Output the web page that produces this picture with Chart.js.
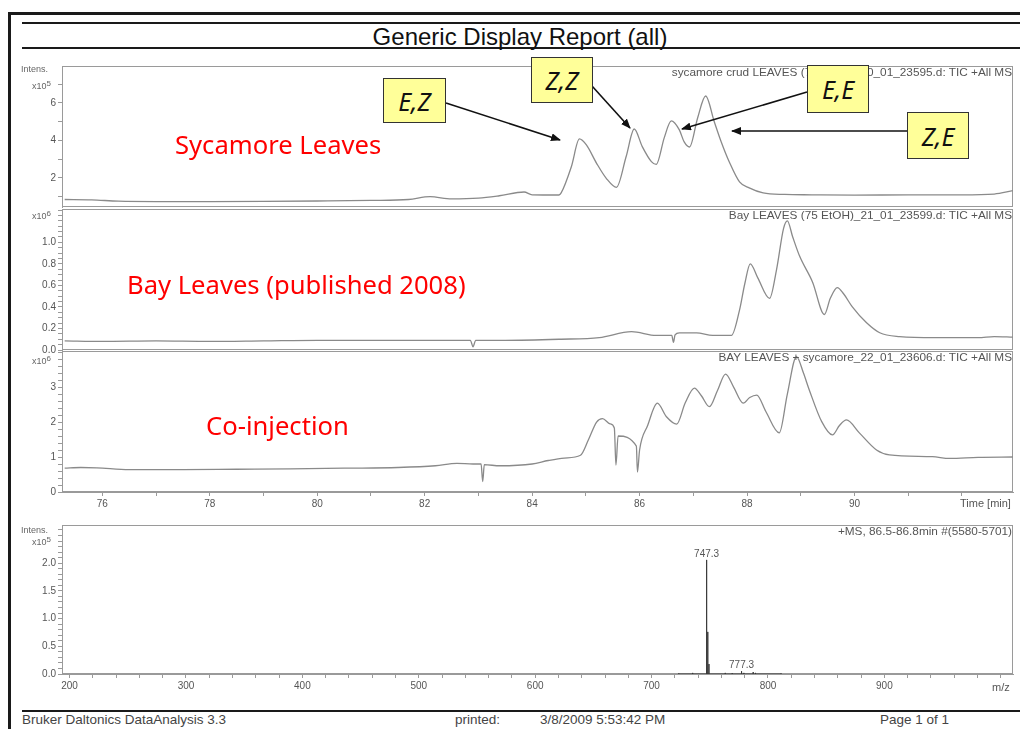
<!DOCTYPE html>
<html>
<head>
<meta charset="utf-8">
<title>Generic Display Report (all)</title>
<script src="https://cdn.jsdelivr.net/npm/chart.js@4.4.1/dist/chart.umd.min.js"></script>
<style>
  html, body { margin: 0; padding: 0; background: #fff; }
  #page { position: relative; width: 1020px; height: 729px; overflow: hidden;
          font-family: "Liberation Sans", Arial, sans-serif; }
  canvas { position: absolute; left: 0; }
  .rule { position: absolute; background: #1a1a1a; }
  .txt { position: absolute; white-space: nowrap; color: #555; font-size: 10px; line-height: 12px; }
  .hdr { right: 8px; font-size: 11.8px; line-height: 13px; }
  .foot { font-size: 13.5px; line-height: 14px; color: #444; }
  .unit { font-size: 9px; color: #666; line-height: 10px; }
  .unit sup { font-size: 8px; vertical-align: 3px; }
  .sample { position: absolute; white-space: nowrap; color: #ff0000;
            font-family: "Noto Sans", sans-serif; font-size: 25.6px; line-height: 30px; }
  .iso { position: absolute; background: #ffff99; border: 1px solid #333;
         font-family: "Noto Sans", sans-serif; font-style: italic; font-size: 25px;
         display: flex; align-items: center; justify-content: center; color: #111; z-index: 3; }
  svg { position: absolute; left: 0; top: 0; z-index: 2; }
</style>
</head>
<body>
<div id="page">
  <!-- page frame and rules -->
  <div class="rule" style="left:8px;top:12px;width:3px;height:717px"></div>
  <div class="rule" style="left:8px;top:12px;width:1012px;height:3px"></div>
  <div class="rule" style="left:22px;top:22px;width:998px;height:2px"></div>
  <div class="rule" style="left:22px;top:47px;width:998px;height:2px"></div>
  <div class="rule" style="left:22px;top:710px;width:998px;height:2px"></div>
  <div class="txt" style="left:0;width:1040px;top:23px;text-align:center;font-size:24px;line-height:28px;color:#111">Generic Display Report (all)</div>

  <canvas id="ticSycamore" width="1020" height="161" style="top:56px"></canvas>
  <canvas id="ticBay" width="1020" height="161" style="top:199px"></canvas>
  <canvas id="ticMix" width="1020" height="177" style="top:341px"></canvas>
  <canvas id="msSpectrum" width="1020" height="185" style="top:515px"></canvas>

  <!-- axis units -->
  <div class="txt unit" style="left:21px;top:64px">Intens.</div>
  <div class="txt unit" style="left:32px;top:79px">x10<sup>5</sup></div>
  <div class="txt unit" style="left:32px;top:209px">x10<sup>6</sup></div>
  <div class="txt unit" style="left:32px;top:354px">x10<sup>6</sup></div>
  <div class="txt unit" style="left:21px;top:525px">Intens.</div>
  <div class="txt unit" style="left:32px;top:535px">x10<sup>5</sup></div>
  <div class="txt" style="left:960px;top:497px;font-size:11px">Time [min]</div>
  <div class="txt" style="left:992px;top:681px;font-size:11px">m/z</div>

  <!-- trace headers -->
  <div class="txt hdr" style="top:66px">sycamore crud LEAVES (75 EtOH)_20_01_23595.d: TIC +All MS</div>
  <div class="txt hdr" style="top:209px">Bay LEAVES (75 EtOH)_21_01_23599.d: TIC +All MS</div>
  <div class="txt hdr" style="top:351px">BAY LEAVES + sycamore_22_01_23606.d: TIC +All MS</div>
  <div class="txt hdr" style="top:525px">+MS, 86.5-86.8min #(5580-5701)</div>

  <!-- sample names -->
  <div class="sample" style="left:175px;top:130px">Sycamore Leaves</div>
  <div class="sample" style="left:127px;top:270px">Bay Leaves (published 2008)</div>
  <div class="sample" style="left:206px;top:411px">Co-injection</div>

  <!-- isomer call-outs -->
  <svg width="1020" height="729">
    <defs>
      <marker id="head" markerWidth="10" markerHeight="8" refX="9" refY="4" orient="auto" markerUnits="userSpaceOnUse">
        <path d="M0,0 L10,4 L0,8 z" fill="#111"/>
      </marker>
    </defs>
    <g stroke="#111" stroke-width="1.6" marker-end="url(#head)">
      <line x1="446" y1="103" x2="560" y2="140"/>
      <line x1="592" y1="86" x2="630" y2="128"/>
      <line x1="807" y1="92" x2="682" y2="129"/>
      <line x1="907" y1="131" x2="732" y2="131"/>
    </g>
  </svg>
  <div class="iso" style="left:383px;top:78px;width:61px;height:43px">E,Z</div>
  <div class="iso" style="left:531px;top:57px;width:60px;height:44px">Z,Z</div>
  <div class="iso" style="left:807px;top:65px;width:60px;height:46px">E,E</div>
  <div class="iso" style="left:907px;top:112px;width:60px;height:45px">Z,E</div>

  <!-- footer -->
  <div class="txt foot" style="left:22px;top:713px">Bruker Daltonics DataAnalysis 3.3</div>
  <div class="txt foot" style="left:455px;top:713px">printed:</div>
  <div class="txt foot" style="left:540px;top:713px">3/8/2009 5:53:42 PM</div>
  <div class="txt foot" style="left:880px;top:713px">Page 1 of 1</div>
</div>

<script>
// TIC traces, retention time in min, intensity in axis units
const sycamoreTime = [75.3, 75.8, 76.3, 77, 78, 79, 80, 81, 81.7, 82.1, 82.5, 83.0, 83.39, 83.85, 84.0, 84.5,
  84.54, 84.73, 84.88, 85.01, 85.2, 85.38, 85.57, 85.75, 85.9, 86.05, 86.22, 86.31, 86.46, 86.59, 86.74,
  86.83, 86.93, 87.08, 87.23, 87.39, 87.52, 87.67, 87.86, 88.04, 88.3, 88.7, 89.2, 90, 91, 92, 92.6, 92.95];
const sycamoreTic = [0.85, 0.83, 0.76, 0.74, 0.74, 0.75, 0.77, 0.8, 0.85, 1.0, 0.88, 0.92, 1.05, 1.25, 1.1, 1.09,
  1.2, 2.6, 4.08, 3.76, 2.78, 1.98, 1.5, 3.14, 4.61, 3.67, 2.87, 2.72, 4.15, 5.04, 4.56,
  3.92, 3.65, 5.2, 6.37, 5.0, 3.92, 2.85, 1.79, 1.47, 1.2, 1.12, 1.1, 1.08, 1.1, 1.1, 1.14, 1.32];

const bayTime = [75.3, 76, 77, 78, 79, 80, 81, 82, 82.85, 82.9, 82.95, 83.5, 84.5, 85.25, 85.85, 86.31, 86.6,
  86.63, 86.66, 86.74, 87.06, 87.36, 87.71, 87.86, 87.96, 88.06, 88.2, 88.42, 88.55, 88.68, 88.75, 88.85,
  88.98, 89.22, 89.44, 89.55, 89.68, 89.8, 89.96, 90.22, 90.47, 90.84, 91.5, 92.3, 92.6, 92.95];
const bayTic = [0.085, 0.08, 0.085, 0.08, 0.085, 0.09, 0.09, 0.09, 0.09, 0.03, 0.09, 0.09, 0.1, 0.115, 0.17, 0.135, 0.135,
  0.07, 0.14, 0.16, 0.16, 0.135, 0.135, 0.37, 0.62, 0.8, 0.67, 0.48, 0.75, 1.13, 1.2, 1.05,
  0.87, 0.63, 0.33, 0.48, 0.58, 0.52, 0.4, 0.255, 0.16, 0.125, 0.115, 0.115, 0.125, 0.12];

const mixTime = [75.3, 75.6, 75.9, 76.5, 77.5, 78.5, 79.5, 80.5, 81.5, 82.2, 82.6, 82.9, 83.05, 83.08, 83.11, 83.4,
  84.0, 84.3, 84.6, 84.9, 85.05, 85.2, 85.31, 85.45, 85.53, 85.56, 85.6, 85.94, 85.96, 86.0, 86.15, 86.33,
  86.5, 86.69, 86.85, 87.02, 87.15, 87.3, 87.45, 87.6, 87.75, 87.93, 88.05, 88.18, 88.35, 88.6, 88.75, 88.92,
  89.05, 89.16, 89.39, 89.59, 89.72, 89.85, 90.09, 90.41, 90.65, 91.45, 91.77, 92.3, 92.95];
const mixTic = [0.68, 0.7, 0.69, 0.64, 0.64, 0.65, 0.66, 0.68, 0.7, 0.75, 0.82, 0.8, 0.8, 0.3, 0.78, 0.75,
  0.8, 0.9, 0.97, 1.05, 1.5, 2.0, 2.1, 1.95, 1.83, 0.77, 1.6, 1.31, 0.57, 1.2, 1.9, 2.54,
  2.15, 1.94, 2.55, 2.97, 2.75, 2.44, 2.9, 3.37, 3.0, 2.54, 2.7, 2.77, 2.3, 1.69, 2.8, 3.87,
  3.4, 2.91, 2.01, 1.63, 1.9, 2.06, 1.69, 1.2, 1.06, 1.01, 0.96, 0.99, 1.0];

// mass spectrum, 86.5-86.8 min
const msMz = [723.3, 735.3, 747.3, 748.3, 749.3, 763.3, 769.3, 777.3, 779.3, 787.3, 789.3, 811.3];
const msIntens = [0.01, 0.02, 2.06, 0.76, 0.18, 0.02, 0.015, 0.05, 0.02, 0.035, 0.02, 0.01];
const msLabelled = [747.3, 777.3];

// axis ticks
const timeTicks = [76, 77, 78, 79, 80, 81, 82, 83, 84, 85, 86, 87, 88, 89, 90, 91, 92];
const timeLabels = [76, 78, 80, 82, 84, 86, 88, 90];
const sycamoreLabels = [2, 4, 6];
const bayLabels = [0, 0.2, 0.4, 0.6, 0.8, 1.0];
const mixLabels = [0, 1, 2, 3];
const msYLabels = [0, 0.5, 1.0, 1.5, 2.0];
const mzLabels = [200, 300, 400, 500, 600, 700, 800, 900];

const axisGrey = '#9a9a9a';
const tickFont = { family: '"Liberation Sans", Arial, sans-serif', size: 10 };

function steps(from, to, step) {
  const out = [];
  const n = Math.round((to - from) / step);
  for (let i = 0; i <= n; i++) out.push(+(from + i * step).toFixed(4));
  return out;
}
function has(list, v) { return list.some(l => Math.abs(l - v) < 1e-6); }

// grey box round every plot area
const framePlugin = {
  id: 'frame',
  beforeDatasetsDraw(chart) {
    const { ctx, chartArea: a } = chart;
    ctx.save();
    ctx.strokeStyle = axisGrey;
    ctx.lineWidth = 1;
    ctx.strokeRect(a.left + 0.5, a.top + 0.5, a.width - 1, a.height - 1);
    ctx.restore();
  }
};

function yAxis(min, max, ticks, labels, digits) {
  return {
    min, max,
    afterFit: s => { s.width = 62; },
    afterBuildTicks: s => { s.ticks = ticks.map(v => ({ value: v })); },
    border: { color: axisGrey },
    grid: { drawOnChartArea: false, tickLength: 4, color: axisGrey },
    ticks: { autoSkip: false, padding: 2, color: '#555', font: tickFont,
             callback: v => has(labels, v) ? v.toFixed(digits) : '' }
  };
}

function timeAxis(show) {
  const axis = {
    type: 'linear', min: 75.25, max: 92.95, display: show,
    afterBuildTicks: s => { s.ticks = timeTicks.map(v => ({ value: v })); },
    border: { color: axisGrey },
    grid: { drawOnChartArea: false, tickLength: 4, color: axisGrey },
    ticks: { autoSkip: false, maxRotation: 0, padding: 2, color: '#555', font: tickFont,
             callback: v => timeLabels.includes(v) ? String(v) : '' }
  };
  if (show) axis.afterFit = s => { s.height = 22; };
  return axis;
}

function ticChart(id, times, values, yScale, showTime, padBottom) {
  new Chart(document.getElementById(id), {
    type: 'line',
    data: { datasets: [{
      data: times.map((t, i) => ({ x: t, y: values[i] })),
      borderColor: '#8a8a8a', borderWidth: 1.3, pointRadius: 0,
      cubicInterpolationMode: 'monotone'
    }] },
    options: {
      responsive: false, animation: false,
      layout: { padding: { left: 0, right: 7, top: 10, bottom: padBottom } },
      plugins: { legend: { display: false }, tooltip: { enabled: false } },
      scales: { x: timeAxis(showTime), y: yScale }
    },
    plugins: [framePlugin]
  });
}

ticChart('ticSycamore', sycamoreTime, sycamoreTic,
  yAxis(0.45, 7.97, steps(1, 7, 1), sycamoreLabels, 0), false, 10);
ticChart('ticBay', bayTime, bayTic,
  yAxis(0, 1.31, steps(0, 1.3, 0.05), bayLabels, 1), false, 10);
ticChart('ticMix', mixTime, mixTic,
  yAxis(0, 4.03, steps(0, 4, 0.2), mixLabels, 0), true, 4);

// spectrum drawn as sticks from the baseline
const msSticks = [];
msMz.forEach((mz, i) => {
  msSticks.push({ x: mz, y: 0 }, { x: mz, y: msIntens[i] }, { x: mz, y: 0 });
});

const peakLabelPlugin = {
  id: 'peakLabels',
  afterDatasetsDraw(chart) {
    const { ctx, scales: { x, y } } = chart;
    ctx.save();
    ctx.fillStyle = '#555';
    ctx.font = '10px "Liberation Sans", Arial, sans-serif';
    ctx.textAlign = 'center';
    ctx.textBaseline = 'bottom';
    msLabelled.forEach(mz => {
      const h = msIntens[msMz.indexOf(mz)];
      ctx.fillText(mz.toFixed(1), x.getPixelForValue(mz), y.getPixelForValue(h) - 1);
    });
    ctx.restore();
  }
};

new Chart(document.getElementById('msSpectrum'), {
  type: 'line',
  data: { datasets: [{
    data: msSticks, borderColor: '#3a3a3a', borderWidth: 1, pointRadius: 0, tension: 0
  }] },
  options: {
    responsive: false, animation: false,
    layout: { padding: { left: 0, right: 7, top: 10, bottom: 4 } },
    plugins: { legend: { display: false }, tooltip: { enabled: false } },
    scales: {
      x: {
        type: 'linear', min: 193.5, max: 1010.5,
        afterFit: s => { s.height = 22; },
        afterBuildTicks: s => { s.ticks = steps(200, 1000, 20).map(v => ({ value: v })); },
        border: { color: axisGrey },
        grid: { drawOnChartArea: false, tickLength: 4, color: axisGrey },
        ticks: { autoSkip: false, maxRotation: 0, padding: 2, color: '#555', font: tickFont,
                 callback: v => mzLabels.includes(v) ? String(v) : '' }
      },
      y: yAxis(0, 2.69, steps(0, 2.6, 0.1), msYLabels, 1)
    }
  },
  plugins: [framePlugin, peakLabelPlugin]
});
</script>
</body>
</html>
